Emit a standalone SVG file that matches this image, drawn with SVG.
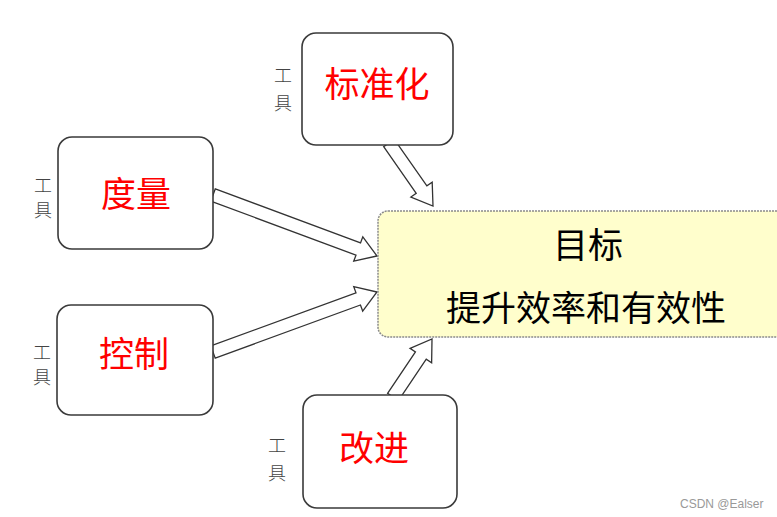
<svg xmlns="http://www.w3.org/2000/svg" width="777" height="517" viewBox="0 0 777 517">
<style>
.box{fill:#fff;stroke:#3a3a3a;stroke-width:1.6}
.arrow{fill:#fff;stroke:#333;stroke-width:1.3;stroke-linejoin:miter}
.red{font-family:"Noto Sans CJK SC","Noto Sans CJK JP",sans-serif;font-size:35px;fill:#ff0000;text-anchor:middle}
.blk{font-family:"Noto Sans CJK SC","Noto Sans CJK JP",sans-serif;font-size:35px;fill:#000;text-anchor:middle}
.tool{font-family:"Noto Sans CJK SC","Noto Sans CJK JP",sans-serif;font-size:18px;fill:#444;text-anchor:middle;font-weight:300}
</style>
<rect width="777" height="517" fill="#fff"/>
<g id="connectors">
<polygon class="arrow" points="210.73,201.09 355.99,255.12 353.72,261.21 377,256 362.80,236.85 360.53,242.94 215.27,188.91"/>
<polygon class="arrow" points="215.24,358.10 360.46,304.98 362.69,311.09 377,292 353.75,286.67 355.98,292.78 210.76,345.90"/>
<polygon class="arrow" points="383.67,146.72 416.21,193.32 410.88,197.05 433,206 432.20,182.15 426.87,185.88 394.33,139.28"/>
<polygon class="arrow" points="398.40,400.63 426.24,359.23 431.63,362.85 432,339 410.05,348.35 415.44,351.97 387.60,393.37"/>
</g>
<g id="node-standard">
<rect class="box" x="302" y="33" width="151" height="112" rx="14"/>
<text class="red" x="377" y="97">标准化</text>
<text class="tool" x="283" y="82">工</text>
<text class="tool" x="283" y="110">具</text>
</g>
<g id="node-measure">
<rect class="box" x="58" y="137" width="155" height="112" rx="14"/>
<text class="red" x="136" y="207">度量</text>
<text class="tool" x="43" y="192">工</text>
<text class="tool" x="43" y="217">具</text>
</g>
<g id="node-control">
<rect class="box" x="57" y="305" width="156" height="110" rx="14"/>
<text class="red" x="134" y="367">控制</text>
<text class="tool" x="42" y="359">工</text>
<text class="tool" x="42" y="384">具</text>
</g>
<g id="node-improve">
<rect class="box" x="303" y="395" width="154" height="113" rx="14"/>
<text class="red" x="374" y="461">改进</text>
<text class="tool" x="277" y="452">工</text>
<text class="tool" x="277" y="480">具</text>
</g>
<g id="node-goal">
<rect x="378" y="211" width="420" height="126" rx="10" fill="#fffecc" stroke="#8a8a8a" stroke-width="1.5" stroke-dasharray="2 1"/>
<text class="blk" x="588" y="258">目标</text>
<text class="blk" x="586" y="321">提升效率和有效性</text>
</g>
<text x="680" y="508" font-family="Liberation Sans, Arial, sans-serif" font-size="12" fill="#999">CSDN @Ealser</text>
</svg>
